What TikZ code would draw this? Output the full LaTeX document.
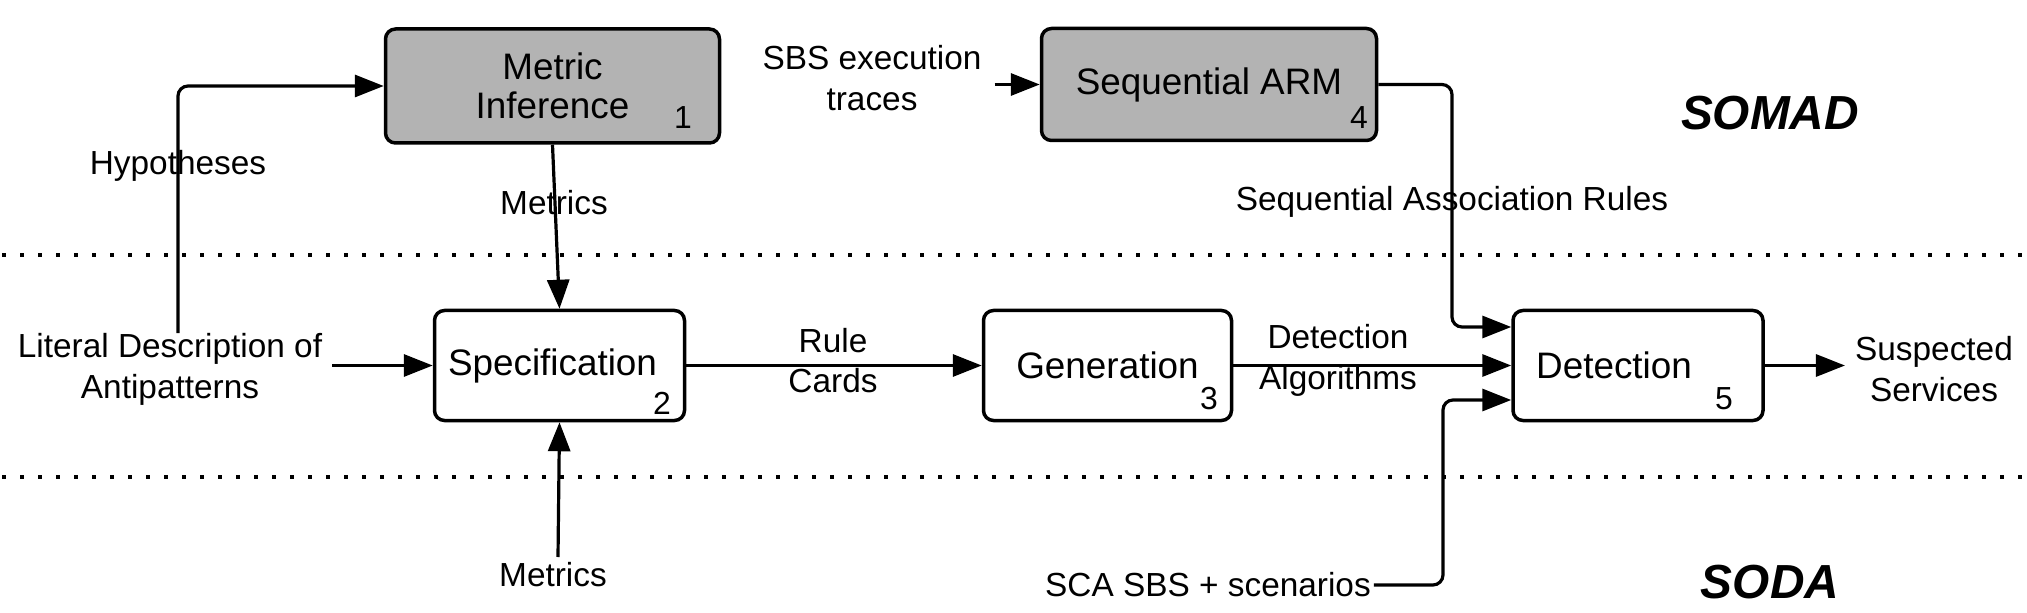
\documentclass[tikz,border=0pt]{standalone}
\usepackage{fontspec}
\setmainfont{Liberation Sans}
\usetikzlibrary{arrows.meta,calc}
\definecolor{boxgray}{RGB}{179,179,179}
\begin{document}
\begin{tikzpicture}[x=1bp,y=-1bp,
  proc/.style={draw, line width=3.5bp, rounded corners=10bp, inner sep=0pt, align=center, font=\fontsize{37}{39}\selectfont},
  procgray/.style={proc, fill=boxgray},
  lbl/.style={align=center, inner sep=3bp, font=\fontsize{33.5}{41}\selectfont},
  num/.style={inner sep=0pt, font=\fontsize{32}{34}\selectfont},
  phase/.style={inner sep=0pt, font=\fontsize{48}{50}\selectfont\bfseries\itshape},
  conn/.style={line width=3.2bp, -{Triangle[length=29bp,width=22bp]}, rounded corners=10bp},
  dotline/.style={line width=4bp, dash pattern=on 4bp off 14bp}
]
\useasboundingbox (0,0) rectangle (2027,613);

% separators
\draw[dotline] (2,255) -- (2027,255);
\draw[dotline] (2,477) -- (2027,477);

% process boxes
\node[procgray, minimum width=334bp, minimum height=114bp] (MI) at (552.5,86) {Metric\\Inference};
\node[procgray, minimum width=335bp, minimum height=112bp] (Seq) at (1209,84.5) {Sequential ARM};
\node[proc, minimum width=250bp, minimum height=110bp] (Spec) at (559.5,365.5) {Specification\hspace*{14bp}};
\node[proc, minimum width=248bp, minimum height=110bp] (Gen) at (1107.5,365.5) {Generation};
\node[proc, minimum width=250bp, minimum height=110bp] (Det) at (1638,365.5) {Detection\hspace*{48bp}};

% numbers
\node[num] (n1) at (683,118) {1};
\node[num] (n2) at (662,403) {2};
\node[num] (n3) at (1209,399) {3};
\node[num] (n4) at (1359,118) {4};
\node[num] (n5) at (1724,399) {5};

% labels
\node[lbl] (Lit) at (170,369) {Literal Description of\\Antipatterns};
\node[lbl] (Hyp) at (178,166) {Hypotheses};
\node[lbl] (Met1) at (554,203) {Metrics};
\node[lbl] (Met2) at (553,575) {Metrics};
\node[lbl] (SBS) at (872,78) {SBS execution\\traces};
\node[lbl] (RC) at (833,360.5) {Rule\\Cards};
\node[lbl] (DA) at (1338,360.5) {Detection\\Algorithms};
\node[lbl] (SAR) at (1452,202) {Sequential Association Rules};
\node[lbl] (Susp) at (1934,369) {Suspected\\Services};
\node[lbl] (SCA) at (1208,585) {SCA SBS + scenarios};
\node[phase] (SOMAD) at (1770,113) {SOMAD};
\node[phase] (SODA) at (1770,582) {SODA};

% connectors
\coordinate (hypstart) at (178,333);
\coordinate (met2top) at (558,557);
\coordinate (sarx) at (1452,0);
\coordinate (scax) at (1443,0);
\coordinate (d1) at ($(Det.west)+(0,-38.5)$);
\coordinate (d3) at ($(Det.west)+(0,34.5)$);

\draw[conn] (hypstart) |- (MI.west);
\draw[conn] (MI.south) -- (Spec.north);
\draw[conn] (met2top) -- (Spec.south);
\draw[conn, shorten <=7bp] (Lit.east |- Spec.west) -- (Spec.west);
\draw[conn] (Spec.east) -- (Gen.west);
\draw[conn] (Gen.east) -- (Det.west);
\draw[conn, shorten <=10bp] (SBS.east |- Seq.west) -- (Seq.west);
\draw[conn] (Seq.east) -| (d1 -| sarx) -- (d1);
\draw[conn] (SCA.east) -| (d3 -| scax) -- (d3);
\draw[conn, shorten >=7bp] (Det.east) -- (Susp.west |- Det.east);
\end{tikzpicture}
\end{document}
